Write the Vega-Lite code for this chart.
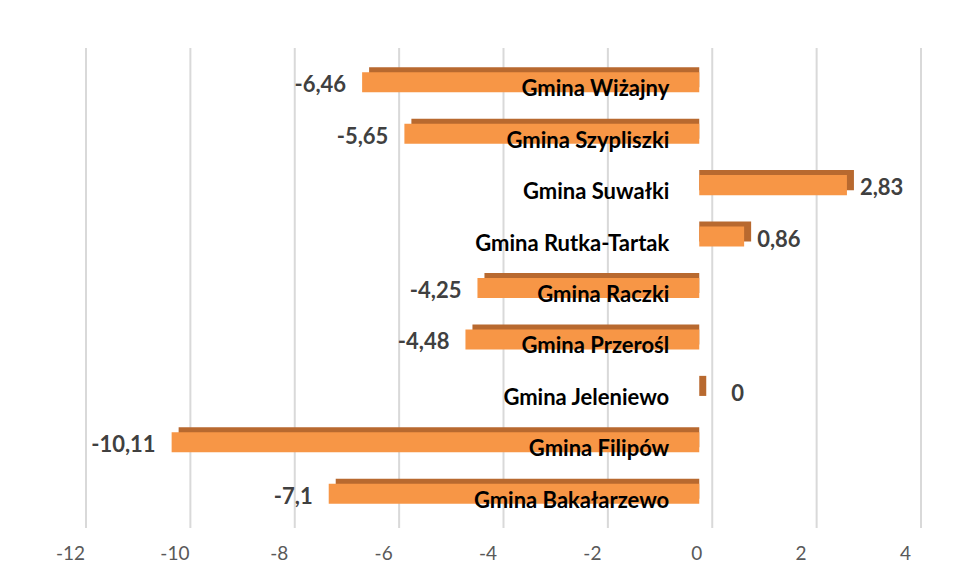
{
  "$schema": "https://vega.github.io/schema/vega-lite/v6.json",
  "autosize": "none",
  "width": 835,
  "height": 480,
  "padding": {"left": 73, "top": 48, "right": 51, "bottom": 55},
  "background": "#ffffff",
  "config": {
    "view": {"stroke": null},
    "locale": {"number": {"decimal": ",", "thousands": " ", "grouping": [3], "currency": ["", ""], "minus": "-"}}
  },
  "datasets": {
    "gminy": [
      {"gmina": "Gmina Wiżajny", "v": -6.46},
      {"gmina": "Gmina Szypliszki", "v": -5.65},
      {"gmina": "Gmina Suwałki", "v": 2.83},
      {"gmina": "Gmina Rutka-Tartak", "v": 0.86},
      {"gmina": "Gmina Raczki", "v": -4.25},
      {"gmina": "Gmina Przerośl", "v": -4.48},
      {"gmina": "Gmina Jeleniewo", "v": 0},
      {"gmina": "Gmina Filipów", "v": -10.11},
      {"gmina": "Gmina Bakałarzewo", "v": -7.1}
    ],
    "ticks": [
      {"t": -12}, {"t": -10}, {"t": -8}, {"t": -6}, {"t": -4}, {"t": -2}, {"t": 0}, {"t": 2}, {"t": 4}
    ]
  },
  "data": {"name": "gminy"},
  "layer": [
    {
      "data": {"name": "ticks"},
      "mark": {"type": "rule", "color": "#d9d9d9", "strokeWidth": 2, "xOffset": 13},
      "encoding": {
        "x": {
          "field": "t", "type": "quantitative",
          "scale": {"domain": [-12, 4], "nice": false, "zero": false},
          "axis": {
            "values": [-12, -10, -8, -6, -4, -2, 0, 2, 4],
            "grid": false, "domain": false, "ticks": false, "tickSize": 0,
            "labelFlush": false, "labelOverlap": false,
            "labelPadding": 16, "labelFont": "Lato", "labelFontSize": 19,
            "labelColor": "#595959", "title": null, "labelOffset": -3
          }
        }
      }
    },
    {
      "mark": {"type": "bar", "color": "#b8692f", "xOffset": 7, "yOffset": -5},
      "encoding": {
        "y": {"field": "gmina", "type": "nominal", "sort": null, "axis": null,
              "scale": {"paddingInner": 0.61, "paddingOuter": 0.47}},
        "x": {"field": "v", "type": "quantitative"},
        "x2": {"datum": 0}
      }
    },
    {
      "mark": {"type": "bar", "color": "#f79646"},
      "encoding": {
        "y": {"field": "gmina", "type": "nominal", "sort": null},
        "x": {"field": "v", "type": "quantitative"},
        "x2": {"datum": 0}
      }
    },
    {
      "mark": {"type": "text", "align": "right", "baseline": "alphabetic", "dx": -30, "dy": 14,
               "font": "Lato", "fontWeight": "bold", "fontSize": 22, "color": "#000000"},
      "encoding": {
        "y": {"field": "gmina", "type": "nominal", "sort": null},
        "x": {"datum": 0},
        "text": {"field": "gmina"}
      }
    },
    {
      "transform": [{"filter": "datum.v < 0"}],
      "mark": {"type": "text", "align": "right", "baseline": "alphabetic", "dx": -16, "dy": 10,
               "font": "Lato", "fontWeight": "bold", "fontSize": 22, "color": "#404040"},
      "encoding": {
        "y": {"field": "gmina", "type": "nominal", "sort": null},
        "x": {"field": "v", "type": "quantitative"},
        "text": {"field": "v", "type": "quantitative", "format": "~g"}
      }
    },
    {
      "transform": [{"filter": "datum.v > 0"}],
      "mark": {"type": "text", "align": "left", "baseline": "alphabetic", "dx": 13, "dy": 10,
               "font": "Lato", "fontWeight": "bold", "fontSize": 22, "color": "#404040"},
      "encoding": {
        "y": {"field": "gmina", "type": "nominal", "sort": null},
        "x": {"field": "v", "type": "quantitative"},
        "text": {"field": "v", "type": "quantitative", "format": "~g"}
      }
    },
    {
      "transform": [{"filter": "datum.v == 0"}],
      "mark": {"type": "text", "align": "left", "baseline": "alphabetic", "dx": 32, "dy": 10,
               "font": "Lato", "fontWeight": "bold", "fontSize": 22, "color": "#404040"},
      "encoding": {
        "y": {"field": "gmina", "type": "nominal", "sort": null},
        "x": {"field": "v", "type": "quantitative"},
        "text": {"field": "v", "type": "quantitative", "format": "~g"}
      }
    }
  ]
}
